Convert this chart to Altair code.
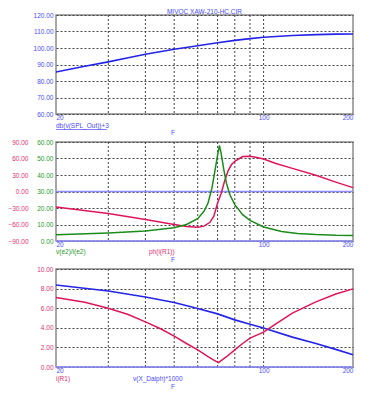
import altair as alt
import pandas as pd

# ---------------- data ----------------
F_SPL = [20, 25, 30, 35, 40, 50, 60, 70, 80, 90, 100, 125, 150, 175, 200]
SPL = [85.5, 88.9, 91.6, 94.1, 96.2, 99.2, 101.4, 103.2, 104.6, 105.7, 106.5, 107.6, 108.1, 108.4, 108.5]

F_Z = [20, 30, 40, 50, 55, 60, 63, 65, 67, 68.5, 70, 71, 72, 73.5, 75, 77, 80, 85, 90, 100, 115, 130, 150, 175, 200]
Z = [3.8, 4.8, 6.0, 8.0, 10, 13.5, 18, 23, 32, 42, 52, 58, 53, 43, 35, 28, 22, 16, 12.5, 8.5, 5.7, 4.6, 3.9, 3.5, 3.4]

F_PH = [20, 30, 40, 50, 55, 60, 63, 66, 68, 70, 72, 74, 76, 78, 80, 85, 90, 95, 100, 110, 125, 150, 175, 200]
PH = [-28, -40, -51, -60, -63.5, -65, -63, -56, -45, -21, -3, 20, 38, 49, 55, 63.5, 64, 62, 59, 51, 42, 29.5, 17, 7]

F_I = [20, 25, 30, 35, 40, 45, 50, 55, 60, 65, 68, 70.5, 75, 80, 85, 90, 100, 110, 125, 150, 175, 200]
I_R1 = [7.1, 6.6, 6.0, 5.35, 4.6, 3.9, 3.15, 2.4, 1.75, 1.05, 0.7, 0.45, 1.05, 1.75, 2.4, 2.95, 3.55, 4.4, 5.5, 6.65, 7.45, 7.97]

F_X = [20, 30, 40, 50, 60, 70, 80, 90, 100, 125, 150, 175, 200]
X_D = [8.37, 7.76, 7.15, 6.58, 5.97, 5.42, 4.81, 4.37, 3.97, 3.05, 2.4, 1.8, 1.25]

GRID_F = [30, 40, 50, 60, 70, 80, 90, 100]
X_TICKS = [20, 100, 200]
Y1_TICKS = [60, 70, 80, 90, 100, 110, 120]
Y2G_TICKS = [0, 10, 20, 30, 40, 50, 60]
Y2P_TICKS = [-90, -60, -30, 0, 30, 60, 90]
Y3_TICKS = [0, 2, 4, 6, 8, 10]

TITLE = "MIVOC XAW-210-HC.CIR"

# ---------------- style ----------------
BLUE = "#2424e8"
LBLUE = "#8c8cff"
PINK = "#e0145a"
GREEN = "#1a8c1a"
LBL_BLUE = "#4a4aff"
LBL_PINK = "#e8306e"
LBL_GREEN = "#2a9a2a"
FONT = "Liberation Sans"
FS = 6.5
W = 297

XS = alt.Scale(type="log", domain=[20, 200], nice=False)
XAX = alt.Axis(values=X_TICKS, title=None, labelColor=LBL_BLUE, grid=False,
               labelFlush=True, format="d", labelPadding=3, labelBaseline="middle")


def xenc(field):
    return alt.X(f"{field}:Q", scale=XS, axis=XAX)


def grid_layer():
    return alt.Chart(pd.DataFrame({"f": GRID_F})).mark_rule(
        strokeDash=[2, 2], color="#444", strokeWidth=1
    ).encode(x=xenc("f"))


def label(text, x, y, color, align="left"):
    return alt.Chart(pd.DataFrame({"a": [0]})).mark_text(
        text=text, color=color, fontSize=FS, font=FONT, align=align, baseline="middle"
    ).encode(x=alt.value(x), y=alt.value(y))


def yaxis(vals, color, grid=True, offset=0):
    return alt.Axis(values=vals, format=".2f", labelColor=color, title=None,
                    grid=grid, orient="left", offset=offset)


# ---------------- panel 1 ----------------
df1 = pd.DataFrame({"f": F_SPL, "v": SPL})
spl = alt.Chart(df1).mark_line(color=BLUE, strokeWidth=1.6).encode(
    x=xenc("f"),
    y=alt.Y("v:Q", scale=alt.Scale(domain=[60, 120], nice=False),
            axis=yaxis(Y1_TICKS, LBL_BLUE)),
)
underline = alt.Chart(pd.DataFrame({"a": [0]})).mark_rule(color=LBL_BLUE, strokeWidth=0.7).encode(
    x=alt.value(0), x2=alt.value(51), y=alt.value(114.5)
)
p1 = alt.layer(
    grid_layer(), spl,
    label("db(v(SPL_Out))+3", 0, 110.7, LBL_BLUE), underline,
    label("F", 117, 118.3, LBL_BLUE, "center"),
).properties(
    width=W, height=99,
    title=alt.TitleParams(TITLE, fontSize=FS, font=FONT, color=LBL_BLUE,
                          fontWeight="normal", anchor="middle", offset=-3),
)

# ---------------- panel 2 ----------------
dfz = pd.DataFrame({"f": F_Z, "v": Z})
dfp = pd.DataFrame({"f": F_PH, "v": PH})
green_scale = alt.Scale(domain=[0, 60], nice=False)
pink_scale = alt.Scale(domain=[-90, 90], nice=False)

green_line = alt.Chart(dfz).mark_line(color=GREEN, strokeWidth=1.5).encode(
    x=xenc("f"), y=alt.Y("v:Q", scale=green_scale, axis=yaxis(Y2G_TICKS, LBL_GREEN))
)
green_base = alt.Chart(pd.DataFrame({"v": [0]})).mark_rule(color=LBLUE, strokeWidth=1.6).encode(
    y=alt.Y("v:Q", scale=green_scale, axis=yaxis(Y2G_TICKS, LBL_GREEN))
)
pink_line = alt.Chart(dfp).mark_line(color=PINK, strokeWidth=1.5).encode(
    x=xenc("f"), y=alt.Y("v:Q", scale=pink_scale, axis=yaxis(Y2P_TICKS, LBL_PINK, grid=False, offset=25))
)
pink_zero = alt.Chart(pd.DataFrame({"v": [0]})).mark_rule(color=LBLUE, strokeWidth=1.6).encode(
    y=alt.Y("v:Q", scale=pink_scale, axis=yaxis(Y2P_TICKS, LBL_PINK, grid=False, offset=25))
)
p2 = alt.layer(
    grid_layer(),
    alt.layer(pink_zero, pink_line),
    alt.layer(green_base, green_line),
    label("v(e2)/i(e2)", 0, 110.3, LBL_GREEN),
    label("ph(i(R1))", 93, 110.3, LBL_PINK),
    label("F", 117, 117.7, LBL_BLUE, "center"),
).resolve_scale(y="independent").properties(width=W, height=99)

# ---------------- panel 3 ----------------
dfi = pd.DataFrame({"f": F_I, "v": I_R1})
dfx = pd.DataFrame({"f": F_X, "v": X_D})
s3 = alt.Scale(domain=[0, 10], nice=False)
i_line = alt.Chart(dfi).mark_line(color=PINK, strokeWidth=1.5).encode(
    x=xenc("f"), y=alt.Y("v:Q", scale=s3, axis=yaxis(Y3_TICKS, LBL_PINK))
)
x_line = alt.Chart(dfx).mark_line(color=BLUE, strokeWidth=1.6).encode(
    x=xenc("f"), y=alt.Y("v:Q", scale=s3, axis=yaxis(Y3_TICKS, LBL_PINK))
)
base3 = alt.Chart(pd.DataFrame({"v": [0]})).mark_rule(color=LBLUE, strokeWidth=1.6).encode(
    y=alt.Y("v:Q", scale=s3, axis=yaxis(Y3_TICKS, LBL_PINK))
)
p3 = alt.layer(
    grid_layer(), base3, x_line, i_line,
    label("i(R1)", 0, 110.3, LBL_PINK),
    label("v(X_Daiph)*1000", 77, 110.3, LBL_BLUE),
    label("F", 117, 117.7, LBL_BLUE, "center"),
).properties(width=W, height=98)

chart = alt.vconcat(p1, p2, p3, spacing=28, bounds="flush").properties(
    padding={"top": 7, "left": 7, "right": 16, "bottom": 0},
    background="white",
).configure_view(
    stroke="#8a8a8a", strokeWidth=1.5
).configure_axis(
    labelFont=FONT, labelFontSize=FS, ticks=False, domain=False, labelPadding=3,
    gridDash=[2, 2], gridColor="#444", gridWidth=1, gridOpacity=1
)

chart.save("out.html", embed_options={"renderer": "svg", "actions": False})
